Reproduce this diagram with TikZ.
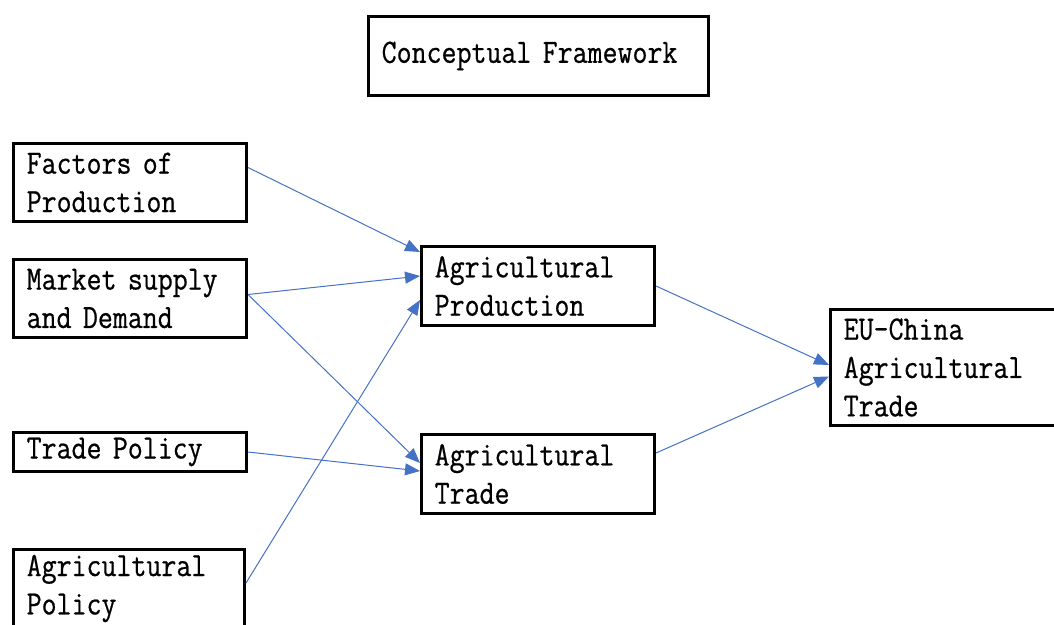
\documentclass[tikz,border=0pt]{standalone}
\usepackage{fontspec}
\newfontfamily\boxfont{Latin Modern Mono}[FakeStretch=0.855,FakeBold=0.6,WordSpace=1.6]
\usepackage{tikz}
\usetikzlibrary{arrows.meta,calc}
\definecolor{linkblue}{RGB}{68,114,196}

\begin{document}
\begin{tikzpicture}[x=1pt,y=-1pt,
  box/.style={draw=black,line width=3pt,align=left,inner xsep=13.2pt,inner ysep=3pt,
    text width=#1,font=\boxfont\fontsize{34}{38.4}\selectfont},
  box/.default=206.6pt,
  link/.style={draw=linkblue,line width=1pt,-{Triangle[length=15pt,width=12pt]}}]
 \useasboundingbox (0,0) rectangle (1054,624);
%title
 \node[box=313.6pt,minimum height=79pt] (title) at (538.5,56) {Conceptual Framework};
%left column
 \node[box,minimum height=78pt] (fac) at (130,182.5) {Factors of\\Production};
 \node[box,minimum height=78pt] (mkt) at (130,298.5) {Market supply\\and Demand};
 \node[box,minimum height=39pt] (trd) at (130,452) {Trade Policy};
 \node[box=204.6pt,minimum height=78pt] (agp) at (129,588.5) {Agricultural\\Policy};
%middle column
 \node[box,minimum height=79pt] (prod) at (538,286) {Agricultural\\Production};
 \node[box,minimum height=79pt] (atr) at (538,474) {Agricultural\\Trade};
%right
 \node[box,minimum height=116pt] (eu) at (947,367.5) {EU-China\\Agricultural\\Trade};
%links
 \draw[link] ([yshift=15pt]fac.east) -- ([yshift=34pt]prod.west);
 \draw[link] ([yshift=4pt]mkt.east) -- ([yshift=10pt]prod.west);
 \draw[link] ([yshift=4pt]mkt.east) -- ([yshift=11pt]atr.west);
 \draw[link] (trd.east) -- ([yshift=3pt]atr.west);
 \draw[link] ([yshift=5.5pt]agp.east) -- ([yshift=-14pt]prod.west);
 \draw[link] (prod.east) -- ([yshift=2.5pt]eu.west);
 \draw[link] ([yshift=21pt]atr.east) -- ([yshift=-9pt]eu.west);
\end{tikzpicture}
\end{document}
